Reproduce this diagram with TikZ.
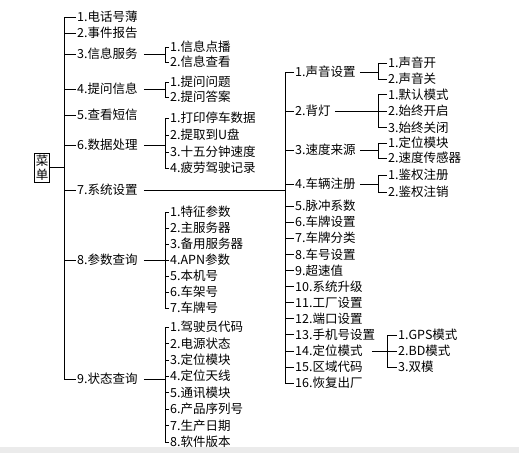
\documentclass[tikz,border=0pt]{standalone}
\usepackage{fontspec}
\usepackage{tikz}
\usepackage{xcolor}
\newfontfamily\cjk{Noto Sans CJK SC}
\usetikzlibrary{positioning,calc}
\definecolor{mnink}{HTML}{000000}
\definecolor{mnband}{HTML}{EBEBEB}
\tikzset{
  menuItem/.style={anchor=west, inner sep=1pt, font=\cjk\fontsize{12.5}{15}\selectfont, text height=11pt, text depth=1.6pt},
  rootBox/.style={draw=mnink, line width=0.7pt, align=center, inner sep=1.5pt, font=\cjk\fontsize{12.5}{14.5}\selectfont},
  treeLine/.style={draw=mnink, line width=0.7pt}
}

\begin{document}
\begin{tikzpicture}[x=1pt,y=-1pt]
  \useasboundingbox (0,0) rectangle (519,453);
  \fill[mnband] (0,447) rectangle (519,453);
  \coordinate (trunk) at (64,0);
  \coordinate (brkB) at (165,0);
  \coordinate (sysTrunk) at (285,0);
  \coordinate (brkC) at (378,0);
  \coordinate (brkD) at (387,0);
  \node[rootBox] (root) at (42,167.5) {菜\\单};
  \foreach \n/\y/\t in {1/17/1.电话号薄, 2/33/2.事件报告, 3/54/3.信息服务, 4/89/4.提问信息, 5/115/5.查看短信,
    6/145/6.数据处理, 7/190/7.系统设置, 8/260/8.参数查询, 9/379/9.状态查询}
    \node[menuItem] (m\n) at (76,\y) {\t};
  \draw[treeLine] (root.east) -- (root.east -| trunk);
  \draw[treeLine] (m1.west) -- (m1.west -| trunk) -- (m9.west -| trunk) -- (m9.west);
  \foreach \n in {2,...,8}
    \draw[treeLine] (m\n.west) -- (m\n.west -| trunk);

  \foreach \n/\y/\t in {1/47/1.信息点播, 2/62/2.信息查看}
    \node[menuItem] (m3-\n) at (169,\y) {\t};
  \foreach \n/\y/\t in {1/82/1.提问问题, 2/97/2.提问答案}
    \node[menuItem] (m4-\n) at (169,\y) {\t};
  \foreach \n/\y/\t in {1/118/1.打印停车数据, 2/135/2.提取到U盘, 3/152/3.十五分钟速度, 4/168/4.疲劳驾驶记录}
    \node[menuItem] (m6-\n) at (169,\y) {\t};
  \foreach \n/\t in {1/1.特征参数, 2/2.主服务器, 3/3.备用服务器, 4/4.APN参数, 5/5.本机号, 6/6.车架号, 7/7.车牌号}
    \node[menuItem] (m8-\n) at (169,{212+16*(\n-1)}) {\t};
  \foreach \n/\t in {1/1.驾驶员代码, 2/2.电源状态, 3/3.定位模块, 4/4.定位天线, 5/5.通讯模块, 6/6.产品序列号, 7/7.生产日期, 8/8.软件版本}
    \node[menuItem] (m9-\n) at (169,{327+16.43*(\n-1)}) {\t};
  \foreach \p/\last in {3/2, 4/2, 6/4, 8/7, 9/8}
  {
    \draw[treeLine] ([xshift=5pt]m\p.east) -- (m\p.east -| brkB);
    \draw[treeLine] (m\p-1.west) -- (m\p-1.west -| brkB) -- (m\p-\last.west -| brkB) -- (m\p-\last.west);
    \foreach \n in {2,...,\last}
      \draw[treeLine] (m\p-\n.west) -- (m\p-\n.west -| brkB);
  }

  \foreach \n/\y/\t in {1/72/1.声音设置, 2/111/2.背灯, 3/150/3.速度来源, 4/184/4.车辆注册}
    \node[menuItem] (m7-\n) at (294,\y) {\t};
  \foreach \n/\t in {5/5.脉冲系数, 6/6.车牌设置, 7/7.车牌分类, 8/8.车号设置, 9/9.超速值, 10/10.系统升级,
    11/11.工厂设置, 12/12.端口设置, 13/13.手机号设置, 14/14.定位模式, 15/15.区域代码, 16/16.恢复出厂}
    \node[menuItem] (m7-\n) at (294,{206+16.1*(\n-5)}) {\t};
  \draw[treeLine] ([xshift=5pt]m7.east) -- (m7.east -| sysTrunk);
  \draw[treeLine] (m7-1.west) -- (m7-1.west -| sysTrunk) -- (m7-16.west -| sysTrunk) -- (m7-16.west);
  \foreach \n in {2,...,15}
    \draw[treeLine] (m7-\n.west) -- (m7-\n.west -| sysTrunk);

  \foreach \n/\y/\t in {1/63/1.声音开, 2/79/2.声音关}
    \node[menuItem] (m7-1-\n) at (387,\y) {\t};
  \foreach \n/\y/\t in {1/94.5/1.默认模式, 2/111/2.始终开启, 3/127.5/3.始终关闭}
    \node[menuItem] (m7-2-\n) at (387,\y) {\t};
  \foreach \n/\y/\t in {1/143/1.定位模块, 2/158/2.速度传感器}
    \node[menuItem] (m7-3-\n) at (387,\y) {\t};
  \foreach \n/\y/\t in {1/175/1.鉴权注册, 2/192/2.鉴权注销}
    \node[menuItem] (m7-4-\n) at (387,\y) {\t};
  \foreach \p/\last in {1/2, 2/3, 3/2, 4/2}
  {
    \draw[treeLine] ([xshift=3pt]m7-\p.east) -- (m7-\p.east -| brkC);
    \draw[treeLine] (m7-\p-1.west) -- (m7-\p-1.west -| brkC) -- (m7-\p-\last.west -| brkC) -- (m7-\p-\last.west);
  }
  \draw[treeLine] (m7-2-2.west) -- (m7-2-2.west -| brkC);

  \foreach \n/\y/\t in {1/335/1.GPS模式, 2/351/2.BD模式, 3/367/3.双模}
    \node[menuItem] (m7-14-\n) at (397,\y) {\t};
  \draw[treeLine] ([xshift=8pt]m7-14.east) -- (m7-14.east -| brkD);
  \draw[treeLine] (m7-14-1.west) -- (m7-14-1.west -| brkD) -- (m7-14-3.west -| brkD) -- (m7-14-3.west);
  \draw[treeLine] (m7-14-2.west) -- (m7-14-2.west -| brkD);
\end{tikzpicture}
\end{document}
